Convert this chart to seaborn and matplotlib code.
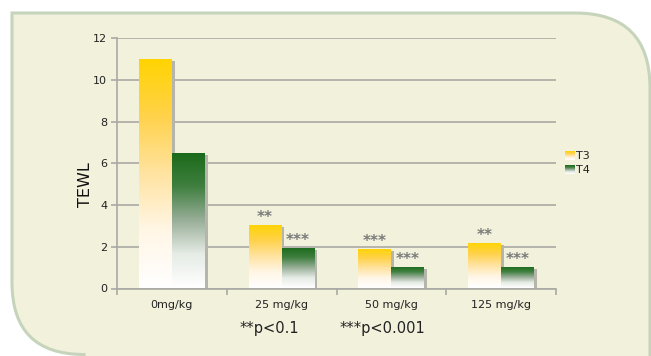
import numpy as np
import pandas as pd
import matplotlib
matplotlib.use("Agg")
import matplotlib.pyplot as plt
import seaborn as sns
from matplotlib.colors import LinearSegmentedColormap
from matplotlib.patches import Rectangle, PathPatch
from matplotlib.path import Path

# Data
doses = ["0mg/kg", "25 mg/kg", "50 mg/kg", "125 mg/kg"]
t3_values = [11.0, 3.05, 1.9, 2.18]
t4_values = [6.5, 1.96, 1.03, 1.03]
t3_marks = ["", "**", "***", "**"]
t4_marks = ["", "***", "***", "***"]
series = ["T3", "T4"]
y_ticks = [0, 2, 4, 6, 8, 10, 12]

df = pd.DataFrame({
    "dose": doses * 2,
    "group": ["T3"] * 4 + ["T4"] * 4,
    "TEWL": t3_values + t4_values,
})

sns.set_theme(style="white")
plt.rcParams["font.family"] = ["DejaVu Sans"]

W, H = 651, 356
fig = plt.figure(figsize=(W / 100, H / 100), dpi=100)
fig.patch.set_facecolor("white")

# Rounded panel behind the chart (square top-left, rounded top-right and bottom-left)
bg = fig.add_axes([0, 0, 1, 1], zorder=-10)
bg.set_xlim(0, W)
bg.set_ylim(H, 0)
bg.axis("off")
x0, x1, y0, y1 = 12, 650, 13, 354.5
r1, r2 = 75, 72
verts = [
    (x0, y0), (x1 - r1, y0), (x1, y0), (x1, y0 + r1), (x1, y1 + 40),
    (x0 + r2, y1 + 40), (x0 + r2, y1), (x0, y1), (x0, y1 - r2), (x0, y0),
]
codes = [Path.MOVETO, Path.LINETO, Path.CURVE3, Path.CURVE3, Path.LINETO,
         Path.LINETO, Path.LINETO, Path.CURVE3, Path.CURVE3, Path.CLOSEPOLY]
bg.add_patch(PathPatch(Path(verts, codes), facecolor="#F2F1DC",
                       edgecolor="#C6D4BC", linewidth=2.2))

ax = fig.add_axes([117 / W, 1 - 288.5 / H, 439 / W, 250.2 / H])
ax.set_facecolor("none")

palette = {"T3": "#FFD400", "T4": "#1E6E1E"}
sns.barplot(data=df, x="dose", y="TEWL", hue="group", order=doses,
            hue_order=series, palette=palette, width=0.6, gap=0,
            legend=False, ax=ax, zorder=3, linewidth=0)

cmaps = {
    "T3": LinearSegmentedColormap.from_list(
        "t3", ["#FFFFFF", "#FFF6E6", "#FFE3A0", "#FFD24A", "#FFD400"]),
    "T4": LinearSegmentedColormap.from_list(
        "t4", ["#FFFFFF", "#E6ECE6", "#98AE98", "#3F7F3F", "#1A6A1A"]),
}
grad = np.linspace(0, 1, 256).reshape(-1, 1)

patches = list(ax.patches)
for i, p in enumerate(patches):
    name = series[i // len(doses)]
    bx, by = p.get_x(), p.get_y()
    bw, bh = p.get_width(), p.get_height()
    # soft shadow along the right edge
    ax.add_patch(Rectangle((bx + bw, by), 0.025, bh - 0.1, facecolor="#B5B5AC",
                           edgecolor="none", zorder=2.5))
    im = ax.imshow(grad, extent=[bx, bx + bw, by, by + bh], origin="lower",
                   cmap=cmaps[name], aspect="auto", zorder=4,
                   interpolation="bilinear")
    im.set_clip_path(p)
    p.set_facecolor("none")

# significance marks above bars
for i, p in enumerate(patches):
    j = i % len(doses)
    mark = (t3_marks if i < len(doses) else t4_marks)[j]
    if mark:
        ax.annotate(mark, (p.get_x() + p.get_width() / 2, p.get_height()),
                    xytext=(0, 0), textcoords="offset points", ha="center",
                    va="bottom", fontsize=11, fontweight="bold", color="#7A7A7A",
                    zorder=6)

ax.set_xlim(-0.5, 3.5)
ax.set_ylim(0, 12)
ax.set_yticks(y_ticks)
ax.set_yticklabels([str(v) for v in y_ticks])
ax.yaxis.grid(True, color="#A9A9A4", linewidth=1.2, zorder=0)
ax.set_axisbelow(True)
ax.set_xlabel("")
ax.set_ylabel("")
for s in ["top", "right"]:
    ax.spines[s].set_visible(False)
for s in ["left", "bottom"]:
    ax.spines[s].set_color("#A9A9A4")
    ax.spines[s].set_linewidth(1.2)

ax.set_xticks([-0.5, 0.5, 1.5, 2.5, 3.5])
ax.set_xticklabels([])
ax.set_xticks(range(len(doses)), minor=True)
ax.set_xticklabels(doses, minor=True)
ax.tick_params(axis="x", which="major", length=4, width=1.2, color="#A9A9A4",
               direction="out", bottom=True)
ax.tick_params(axis="x", which="minor", length=0, pad=8, labelsize=8,
               labelcolor="#222222")
ax.tick_params(axis="y", length=4, width=1.2, color="#A9A9A4", direction="out",
               left=True, labelsize=8, labelcolor="#222222", pad=3)

fig.text(85 / W, 1 - 185 / H, "TEWL", rotation=90, ha="center", va="center",
         fontsize=11.5, color="#111111")

fig.text(240 / W, 1 - 328 / H, "**p<0.1", ha="left", va="center", fontsize=10.5,
         color="#222222")
fig.text(340 / W, 1 - 328 / H, "***p<0.001", ha="left", va="center", fontsize=10.5,
         color="#222222")

# legend with gradient swatches
for k, name in enumerate(series):
    top = 151 + k * 14
    sw = fig.add_axes([565 / W, 1 - (top + 9) / H, 9 / W, 9 / H])
    sw.imshow(grad, origin="lower", cmap=cmaps[name], aspect="auto",
              extent=[0, 1, 0, 1])
    sw.axis("off")
    fig.text(576 / W, 1 - (top + 5) / H, name, ha="left", va="center",
             fontsize=8, color="#222222")

fig.savefig("out.png", dpi=100)
